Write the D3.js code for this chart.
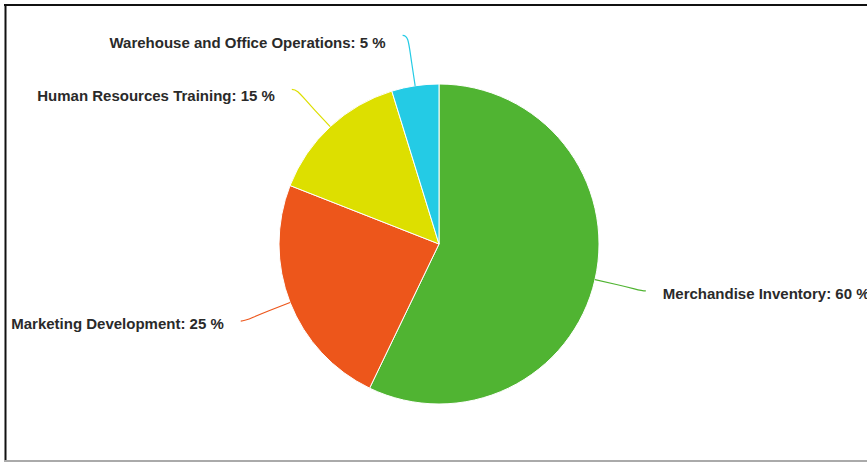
<!DOCTYPE html>
<html>
<head>
<meta charset="utf-8">
<script src="https://cdn.jsdelivr.net/npm/d3@7"></script>
<style>
  html, body { margin: 0; padding: 0; background: #fff; overflow: hidden; }
  svg { display: block; }
</style>
</head>
<body>
<div id="pieChart"></div>
<script>
var categories = ['Merchandise Inventory', 'Marketing Development', 'Human Resources Training', 'Warehouse and Office Operations'];
var values = [60, 25, 15, 5];
var colors = ['#50B432', '#ED561B', '#DDDF00', '#24CBE5'];

var width = 867;
var height = 462;
var cx = 439, cy = 244;
var radius = 160;

var svg = d3.select('#pieChart')
    .append('svg')
    .attr('width', width)
    .attr('height', height);

// frame of the screenshot
svg.append('line').attr('x1', 5.5).attr('y1', 4).attr('x2', 5.5).attr('y2', 462)
    .attr('stroke', '#111').attr('stroke-width', 2);
svg.append('line').attr('x1', 4).attr('y1', 5).attr('x2', width).attr('y2', 5)
    .attr('stroke', '#111').attr('stroke-width', 2);
svg.append('line').attr('x1', 4).attr('y1', 461).attr('x2', width).attr('y2', 461)
    .attr('stroke', '#aaa').attr('stroke-width', 2);

var dataset = categories.map(function(c, i) {
    return { label: c, count: values[i], color: colors[i] };
});

var g = svg.append('g')
    .attr('transform', 'translate(' + cx + ',' + cy + ')');

var pie = d3.pie()
    .value(function(d) { return d.count; })
    .sort(null);

var arc = d3.arc()
    .innerRadius(0)
    .outerRadius(radius);

var arcs = pie(dataset);

g.selectAll('path.slice')
    .data(arcs)
    .enter()
    .append('path')
    .attr('class', 'slice')
    .attr('d', arc)
    .attr('fill', function(d) { return d.data.color; })
    .attr('stroke', '#fff')
    .attr('stroke-width', 1);

function polar(r, a) {
    return [r * Math.sin(a), -r * Math.cos(a)];
}

// connectors: radial from the slice, then a soft hook to the label
arcs.forEach(function(d) {
    var a = (d.startAngle + d.endAngle) / 2;
    var side = Math.sin(a) >= 0 ? 1 : -1;
    var touch = polar(radius, a);
    var brk = polar(radius + 22, a);
    var end = polar(radius + 51, a);
    end[0] += side * 5 * Math.abs(Math.cos(a)); // hook turns toward the label
    var c1 = [2 * brk[0] - touch[0], 2 * brk[1] - touch[1]];
    var c2 = [end[0] - side * 6, end[1]];
    var p = d3.path();
    p.moveTo(touch[0], touch[1]);
    p.lineTo(brk[0], brk[1]);
    p.bezierCurveTo(c1[0], c1[1], c2[0], c2[1], end[0], end[1]);
    g.append('path')
        .attr('d', p.toString())
        .attr('fill', 'none')
        .attr('stroke', d.data.color)
        .attr('stroke-width', 1.2);

    g.append('text')
        .attr('x', end[0] + side * 17)
        .attr('y', end[1] + 4 + 3.5 * Math.cos(a))
        .attr('dy', '0.35em')
        .attr('text-anchor', side > 0 ? 'start' : 'end')
        .attr('font-family', 'Liberation Sans, Arial, sans-serif')
        .attr('font-weight', 'bold')
        .attr('font-size', '15px')
        .attr('fill', '#2a2a2a')
        .text(d.data.label + ': ' + d.data.count + ' %');
});
</script>
</body>
</html>
